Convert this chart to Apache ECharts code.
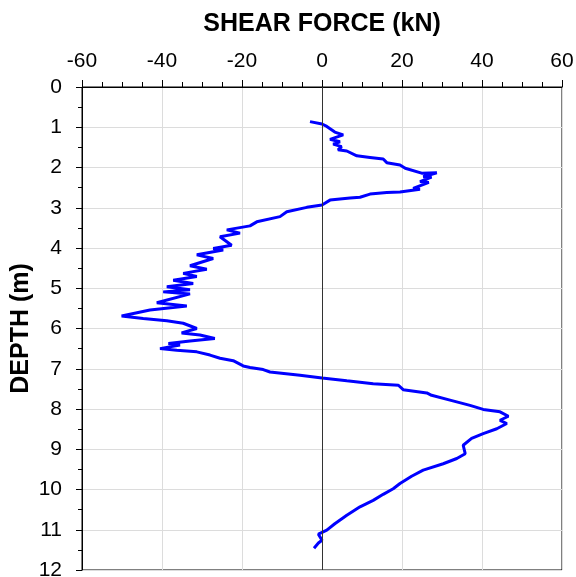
<!DOCTYPE html>
<html>
<head>
<meta charset="utf-8">
<script src="https://cdn.jsdelivr.net/npm/echarts@6/dist/echarts.min.js"></script>
<style>
  html, body { margin: 0; padding: 0; background: #fff; }
  #chart { width: 576px; height: 577px; }
</style>
</head>
<body>
<div id="chart"></div>
<script>
// shear force (kN), top to bottom
const shear = [
  -3.0, 0, 1.2, 3.2, 5.3, 2.0, 4.5, 2.8, 4.9, 4.0, 6.2, 8.7, 12, 15.3, 16.2, 19.5, 20.8,
  24.9, 28.7, 25.3, 27.4, 24.5, 26.7, 22.8, 24.5, 19.5, 16.2, 12, 9.5, 7, 2, 0, -3.8,
  -8.8, -10.5, -16.3, -18, -23.8, -20.5, -25.5, -22.6, -27.2, -24.7, -31.3, -27.2, -33,
  -28.8, -34.7, -31.3, -37.2, -32.2, -38.8, -33, -39.7, -33, -41.3, -33.8, -43, -50.1,
  -44.7, -38.8, -34.7, -31.3, -35.1, -30.5, -26.8, -33, -38.4, -35.5, -40.5, -36.3,
  -31.3, -28, -25.5, -22.2, -19.7, -18, -14.7, -13, -5.5, 0, 6.2, 12.8, 19.1, 20.3,
  26.2, 27.4, 32, 37, 40.3, 44.5, 46.6, 44.5, 46.2, 43.7, 40.3, 37.4, 35.3, 35.8, 33.7,
  30.3, 25.3, 22.4, 19.5, 17.8, 15.3, 12.8, 9.5, 6.2, 3.2, 1.2, -0.9, 0, -0.9, -2
];
const depth = [
  0.86, 0.92, 0.98, 1.12, 1.19, 1.30, 1.36, 1.42, 1.48, 1.56, 1.59, 1.71, 1.75, 1.79, 1.88, 1.94, 2.02,
  2.14, 2.13, 2.23, 2.24, 2.35, 2.37, 2.52, 2.54, 2.61, 2.62, 2.66, 2.74, 2.76, 2.81, 2.93, 2.99,
  3.10, 3.22, 3.35, 3.45, 3.55, 3.63, 3.72, 3.93, 4.01, 4.05, 4.17, 4.26, 4.44,
  4.53, 4.63, 4.71, 4.80, 4.88, 4.96, 5.04, 5.09, 5.14, 5.36, 5.44, 5.54, 5.69,
  5.75, 5.81, 5.87, 6.00, 6.11, 6.16, 6.25, 6.31, 6.37, 6.41, 6.50, 6.54,
  6.58, 6.66, 6.74, 6.80, 6.93, 6.97, 7.02, 7.08, 7.16, 7.23, 7.30, 7.37, 7.41, 7.52,
  7.60, 7.66, 7.78, 7.91, 8.01, 8.07, 8.18, 8.28, 8.36, 8.49, 8.61, 8.73, 8.90, 9.11, 9.23,
  9.36, 9.52, 9.67, 9.85, 9.98, 10.12, 10.27, 10.43, 10.64, 10.85, 11.01, 11.11, 11.26, 11.33, 11.46
];

const chart = echarts.init(document.getElementById('chart'));
const font = 'Liberation Sans, Arial, sans-serif';

chart.setOption({
  animation: false,
  grid: {
    left: 82, top: 87, width: 480, height: 483,
    outerBoundsMode: 'none',
    containLabel: false,
    show: true, borderColor: '#000', borderWidth: 1
  },
  xAxis: {
    type: 'value',
    position: 'top',
    min: -60, max: 60, interval: 20,
    name: 'SHEAR FORCE (kN)',
    nameLocation: 'middle',
    nameGap: 50,
    nameMoveOverlap: false,
    nameTextStyle: { fontFamily: font, fontSize: 25, fontWeight: 'bold', color: '#000' },
    axisLine: { onZero: false, lineStyle: { color: '#000', width: 1 } },
    axisTick: { inside: false, length: 7, lineStyle: { color: '#000' } },
    minorTick: { show: true, splitNumber: 4, length: 5, lineStyle: { color: '#000' } },
    axisLabel: { margin: 15, fontFamily: font, fontSize: 21, color: '#000' },
    splitLine: { show: true, lineStyle: { color: '#dcdcdc', width: 1 } }
  },
  yAxis: {
    type: 'value',
    inverse: true,
    min: 0, max: 12, interval: 1,
    name: 'DEPTH (m)',
    nameLocation: 'middle',
    nameGap: 48,
    nameMoveOverlap: false,
    nameTextStyle: { fontFamily: font, fontSize: 25, fontWeight: 'bold', color: '#000' },
    axisLine: { onZero: false, lineStyle: { color: '#000', width: 1 } },
    axisTick: { inside: false, length: 6, lineStyle: { color: '#000' } },
    minorTick: { show: true, splitNumber: 2, length: 4, lineStyle: { color: '#000' } },
    axisLabel: { margin: 20, fontFamily: font, fontSize: 21, color: '#000' },
    splitLine: { show: true, lineStyle: { color: '#dcdcdc', width: 1 } }
  },
  series: [{
    type: 'line',
    data: shear.map((v, i) => [v, depth[i]]),
    showSymbol: false,
    smooth: false,
    lineStyle: { color: '#0000ff', width: 3 },
    markLine: {
      silent: true,
      symbol: 'none',
      label: { show: false },
      lineStyle: { color: '#333', width: 1, type: 'solid' },
      data: [{ xAxis: 0 }]
    }
  }]
});
</script>
</body>
</html>
